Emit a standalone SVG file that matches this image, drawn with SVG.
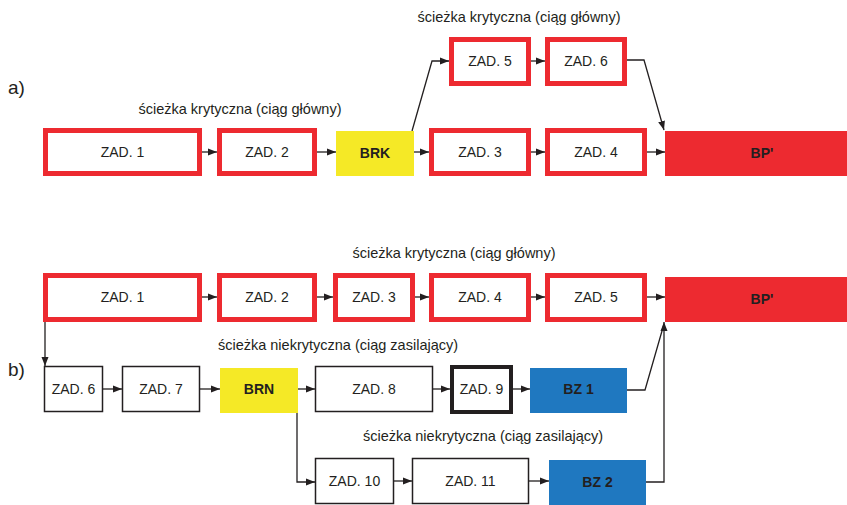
<svg xmlns="http://www.w3.org/2000/svg" width="847" height="505" viewBox="0 0 847 505">
<style>
text{font-family:"Liberation Sans",Arial,sans-serif;fill:#231f20}
.lbl{font-size:14px;text-anchor:middle}
.b{font-weight:bold}
.cap{font-size:14.5px;text-anchor:middle}
.part{font-size:19px}
.crit{fill:#fff;stroke:#ed2a30;stroke-width:5}
.plain{fill:#fff;stroke:#231f20;stroke-width:1.5}
.thick{fill:#fff;stroke:#231f20;stroke-width:4}
.yel{fill:#f5e926}
.red{fill:#ed2a30}
.blue{fill:#1f78c0}
.c{fill:none;stroke:#231f20;stroke-width:1.3;marker-end:url(#ah)}
.n{fill:none;stroke:#231f20;stroke-width:1.3}
</style>
<defs>
<marker id="ah" markerWidth="9" markerHeight="8" refX="9" refY="4" orient="auto" markerUnits="userSpaceOnUse">
<path d="M0,0.5 L9,4 L0,7.5 z" fill="#231f20"/>
</marker>
</defs>
<text class="part" x="8" y="94">a)</text>
<text class="part" x="8" y="376">b)</text>
<text class="cap" x="519" y="22">ścieżka krytyczna (ciąg główny)</text>
<text class="cap" x="240" y="114">ścieżka krytyczna (ciąg główny)</text>
<text class="cap" x="454" y="258">ścieżka krytyczna (ciąg główny)</text>
<text class="cap" x="338" y="350">ścieżka niekrytyczna (ciąg zasilający)</text>
<text class="cap" x="483" y="441">ścieżka niekrytyczna (ciąg zasilający)</text>
<g id="connectors">
<path class="c" d="M202,152 H217"/>
<path class="c" d="M317,152 H336"/>
<path class="c" d="M414,152 H429"/>
<path class="c" d="M531,152 H545"/>
<path class="c" d="M647,152 H665"/>
<path class="c" d="M412,131 L432,61 H449"/>
<path class="c" d="M531,61 H545"/>
<path class="c" d="M627,60 H644 L664,130"/>
<path class="c" d="M202,297 H217"/>
<path class="c" d="M317,297 H333"/>
<path class="c" d="M415,297 H429"/>
<path class="c" d="M531,297 H545"/>
<path class="c" d="M647,297 H665"/>
<path class="c" d="M45,322 V366"/>
<path class="c" d="M103,389 H122"/>
<path class="c" d="M200,389 H220"/>
<path class="c" d="M298,389 H315"/>
<path class="c" d="M433,389 H450"/>
<path class="c" d="M513,389 H530"/>
<path class="n" d="M627,390 H645 L664,324"/>
<path class="c" d="M646,482 H664 V322"/>
<path class="c" d="M297,413 V482 H315"/>
<path class="c" d="M394,481 H412"/>
<path class="c" d="M529,481 H549"/>
</g>
<g id="a_zad1"><rect class="crit" x="45.5" y="130.5" width="154" height="43"/><text class="lbl" x="122.5" y="157">ZAD. 1</text></g>
<g id="a_zad2"><rect class="crit" x="219.5" y="130.5" width="95" height="43"/><text class="lbl" x="267" y="157">ZAD. 2</text></g>
<g id="a_brk"><rect class="yel" x="336" y="131" width="78" height="45"/><text class="lbl b" x="375" y="158">BRK</text></g>
<g id="a_zad3"><rect class="crit" x="431.5" y="130.5" width="97" height="43"/><text class="lbl" x="480" y="157">ZAD. 3</text></g>
<g id="a_zad4"><rect class="crit" x="547.5" y="130.5" width="97" height="43"/><text class="lbl" x="596" y="157">ZAD. 4</text></g>
<g id="a_zad5"><rect class="crit" x="451.5" y="39.5" width="77" height="44"/><text class="lbl" x="490" y="66">ZAD. 5</text></g>
<g id="a_zad6"><rect class="crit" x="547.5" y="39.5" width="77" height="44"/><text class="lbl" x="586" y="66">ZAD. 6</text></g>
<g id="a_bp"><rect class="red" x="665" y="131" width="182" height="45"/><text class="lbl b" x="762" y="158">BP'</text></g>
<g id="b_zad1"><rect class="crit" x="45.5" y="275.5" width="154" height="44"/><text class="lbl" x="122.5" y="302">ZAD. 1</text></g>
<g id="b_zad2"><rect class="crit" x="219.5" y="275.5" width="95" height="44"/><text class="lbl" x="267" y="302">ZAD. 2</text></g>
<g id="b_zad3"><rect class="crit" x="335.5" y="275.5" width="77" height="44"/><text class="lbl" x="374" y="302">ZAD. 3</text></g>
<g id="b_zad4"><rect class="crit" x="431.5" y="275.5" width="97" height="44"/><text class="lbl" x="480" y="302">ZAD. 4</text></g>
<g id="b_zad5"><rect class="crit" x="547.5" y="275.5" width="97" height="44"/><text class="lbl" x="596" y="302">ZAD. 5</text></g>
<g id="b_bp"><rect class="red" x="665" y="277" width="182" height="45"/><text class="lbl b" x="762" y="304">BP'</text></g>
<g id="b_zad6"><rect class="plain" x="44.5" y="366.5" width="58" height="45"/><text class="lbl" x="73.5" y="394">ZAD. 6</text></g>
<g id="b_zad7"><rect class="plain" x="122.5" y="366.5" width="77" height="45"/><text class="lbl" x="161" y="394">ZAD. 7</text></g>
<g id="b_brn"><rect class="yel" x="220" y="368" width="78" height="45"/><text class="lbl b" x="259" y="394">BRN</text></g>
<g id="b_zad8"><rect class="plain" x="315.5" y="366.5" width="117" height="45"/><text class="lbl" x="374" y="394">ZAD. 8</text></g>
<g id="b_zad9"><rect class="thick" x="452" y="367" width="59" height="45"/><text class="lbl" x="481.5" y="394">ZAD. 9</text></g>
<g id="b_bz1"><rect class="blue" x="530" y="368" width="97" height="45"/><text class="lbl b" x="578.5" y="394">BZ 1</text></g>
<g id="b_zad10"><rect class="plain" x="315.5" y="458.5" width="78" height="45"/><text class="lbl" x="354.5" y="486">ZAD. 10</text></g>
<g id="b_zad11"><rect class="plain" x="412.5" y="458.5" width="116" height="45"/><text class="lbl" x="470.5" y="486">ZAD. 11</text></g>
<g id="b_bz2"><rect class="blue" x="549" y="460" width="97" height="45"/><text class="lbl b" x="597.5" y="487">BZ 2</text></g>
</svg>
